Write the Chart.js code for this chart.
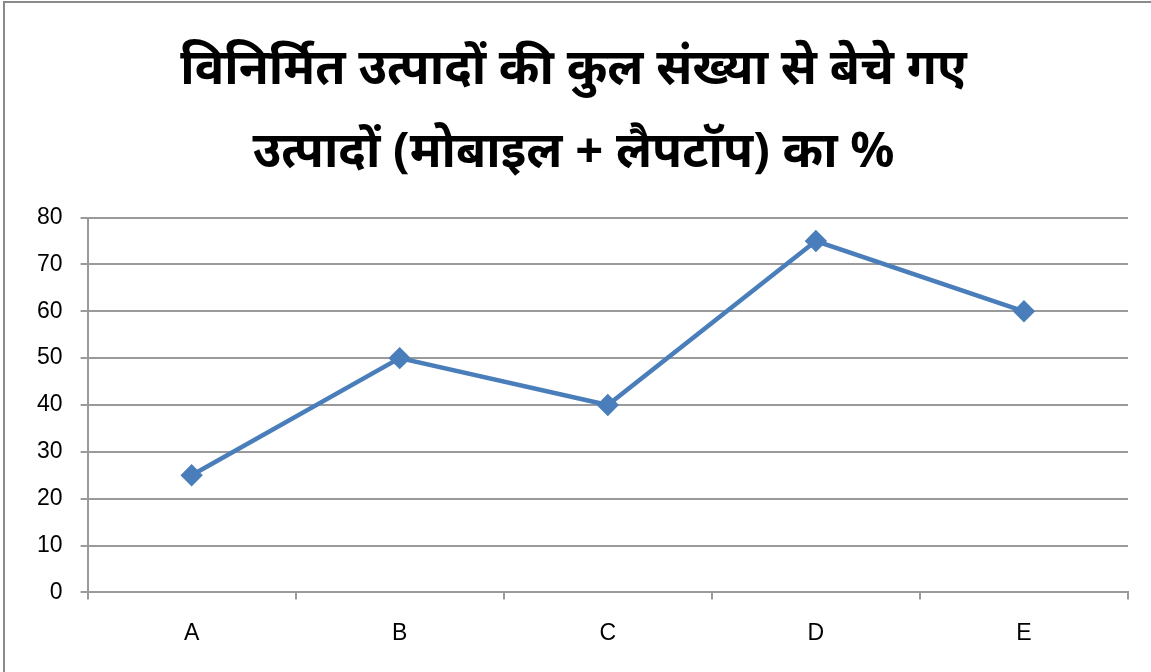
<!DOCTYPE html>
<html>
<head>
<meta charset="utf-8">
<script src="https://cdn.jsdelivr.net/npm/chart.js@4/dist/chart.umd.min.js"></script>
<style>
  html, body { margin: 0; padding: 0; background: #fff; }
  #wrap { width: 1151px; height: 672px; }
</style>
</head>
<body>
<div id="wrap"><canvas id="ourChart" width="1151" height="672"></canvas></div>
<script>
const categories = ['A', 'B', 'C', 'D', 'E'];
const percentSold = [25, 50, 40, 75, 60];
const titleLines = ['विनिर्मित उत्पादों की कुल संख्या से बेचे गए', 'उत्पादों (मोबाइल + लैपटॉप) का %'];

// grey frame on the left and top edge, like the original picture
const framePlugin = {
    id: 'frame',
    beforeDraw(chart) {
        const c = chart.ctx;
        c.save();
        c.fillStyle = '#fff';
        c.fillRect(0, 0, chart.width, chart.height);
        c.strokeStyle = '#8a8a8a';
        c.lineWidth = 2;
        c.beginPath();
        c.moveTo(4, chart.height);
        c.lineTo(4, 2);
        c.lineTo(chart.width, 2);
        c.stroke();
        c.restore();
    }
};

new Chart(document.getElementById('ourChart'), {
    type: 'line',
    data: {
        labels: categories,
        datasets: [
            {
                label: '%',
                data: percentSold,
                borderColor: '#4a7ebb',
                backgroundColor: '#4a7ebb',
                borderWidth: 4.5,
                pointStyle: 'rectRot',
                pointRadius: 8,
                pointHoverRadius: 8,
                tension: 0,
            },
        ]
    },
    options: {
        responsive: false,
        animation: false,
        layout: {
            padding: { left: 19, right: 23, top: 28, bottom: 5 }
        },
        plugins: {
            legend: { display: false },
            tooltip: { enabled: false },
            title: {
                display: true,
                text: titleLines,
                color: '#000',
                font: { family: '"Noto Sans", sans-serif', size: 49, weight: 'bold', lineHeight: 1.7 },
                padding: { top: 0, bottom: 23 }
            }
        },
        scales: {
            x: {
                offset: true,
                grid: {
                    offset: true,
                    drawOnChartArea: false,
                    color: '#9a9a9a',
                    tickLength: 7,
                    lineWidth: 2
                },
                border: { color: '#9a9a9a', width: 2 },
                ticks: {
                    color: '#000',
                    padding: 20,
                    font: { family: '"Liberation Sans", Arial, sans-serif', size: 23 }
                }
            },
            y: {
                min: 0,
                max: 80,
                ticks: {
                    stepSize: 10,
                    color: '#000',
                    padding: 18,
                    font: { family: '"Liberation Sans", Arial, sans-serif', size: 23 }
                },
                grid: {
                    color: '#9a9a9a',
                    lineWidth: 2,
                    tickLength: 7
                },
                border: { color: '#9a9a9a', width: 2 }
            }
        }
    },
    plugins: [framePlugin]
});
</script>
</body>
</html>
